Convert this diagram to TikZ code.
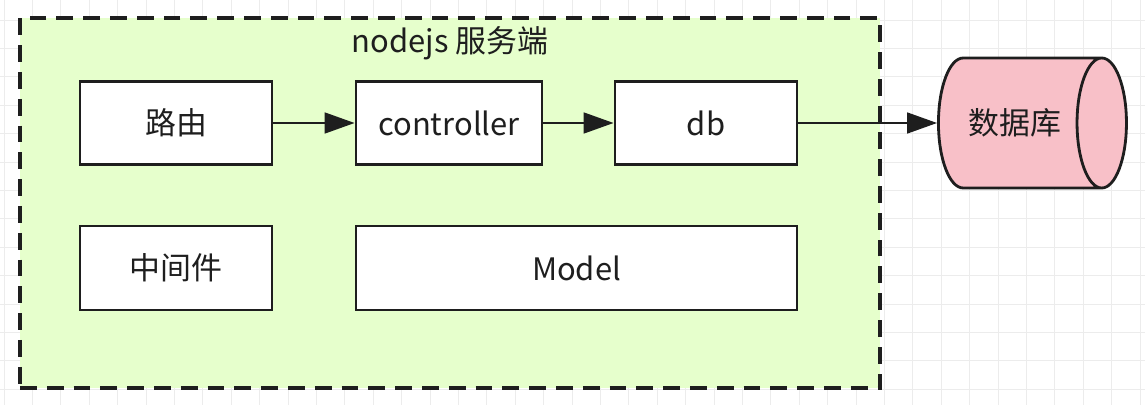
\documentclass[tikz,border=0pt]{standalone}
\usepackage{fontspec}
\setmainfont{Noto Sans CJK SC}
\usetikzlibrary{arrows.meta,shapes.geometric}
\definecolor{srvgreen}{RGB}{230,255,204}
\definecolor{dbpink}{RGB}{248,192,200}
\definecolor{gridgray}{RGB}{236,236,236}
\definecolor{inkgray}{RGB}{30,30,30}

\begin{document}
\begin{tikzpicture}[
    every node/.style={font=\fontsize{22}{26}\selectfont, text=inkgray},
    server/.style={draw=inkgray, fill=srvgreen, line width=2.4pt, dash pattern=on 0.42cm off 0.25cm},
    box/.style={draw=inkgray, fill=white, line width=2pt, minimum height=2.075cm, anchor=center},
    store/.style={cylinder, draw=inkgray, fill=dbpink, line width=2pt, shape aspect=1.3},
    arr/.style={-{Triangle[length=0.75cm, width=0.52cm]}, line width=1.7pt, draw=inkgray}
]
\useasboundingbox (0,0) rectangle (28.625,10.125);
% background grid
\foreach \x in {0.1,0.81,...,28.6}
    \draw[gridgray, line width=0.6pt] (\x,0) -- (\x,10.125);
\foreach \y in {0.395,1.105,...,10.1}
    \draw[gridgray, line width=0.6pt] (0,\y) -- (28.625,\y);

% nodejs server
\node[server, minimum width=21.5cm, minimum height=9.25cm] (srv) at (11.25,5.05) {};
\node (title) at (11.25,9.05) {nodejs 服务端};

% top row
\node[box, minimum width=4.8cm] (route) at (4.4,7.05) {路由};
\node[box, minimum width=4.65cm] (ctrl) at (11.225,7.05) {controller};
\node[box, minimum width=4.55cm] (db) at (17.65,7.05) {db};

% bottom row
\node[box, minimum width=4.8cm, minimum height=2.1cm] (mw) at (4.4,3.425) {中间件};
\node[box, minimum width=11.025cm, minimum height=2.1cm] (model) at (14.4125,3.425) {Model};

% database
\node[store, minimum height=4.7cm, minimum width=3.25cm] (dbase) at (25.37,7.05) {数据库};

% Arrows
\draw[arr] (route) -- (ctrl);
\draw[arr] (ctrl) -- (db);
\draw[arr] (db) -- (dbase);
\end{tikzpicture}
\end{document}
